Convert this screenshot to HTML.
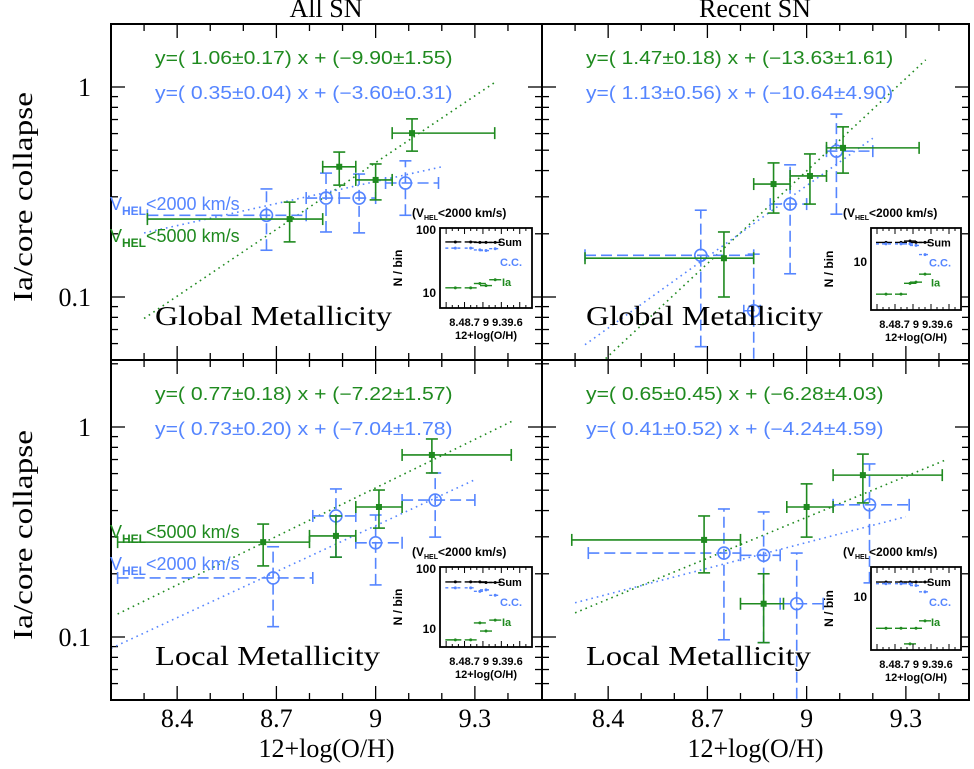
<!DOCTYPE html>
<html><head><meta charset="utf-8"><style>
html,body{margin:0;padding:0;background:#fff;}
svg{display:block;}
text{font-family:"Liberation Serif",serif;}
.eq{font-family:"Liberation Sans",sans-serif;font-size:18px;}
.ins{font-family:"Liberation Sans",sans-serif;font-weight:bold;}
</style></head><body>
<svg id="fig" width="974" height="769" viewBox="0 0 974 769" xmlns="http://www.w3.org/2000/svg"></svg>
<script>
const panelNames = ['all-global','recent-global','all-local','recent-local'];
const greenX   = [[8.74,8.89,9.00,9.11],[8.75,8.90,9.01,9.11],[8.66,8.88,9.01,9.17],[8.69,8.87,9.00,9.17]];
const greenXlo = [[8.31,8.84,8.94,9.05],[8.33,8.84,8.95,9.06],[8.22,8.80,8.94,9.08],[8.29,8.80,8.94,9.08]];
const greenXhi = [[8.84,8.94,9.05,9.36],[8.84,8.95,9.06,9.34],[8.80,8.94,9.08,9.41],[8.80,8.93,9.08,9.41]];
const greenY   = [[0.235,0.417,0.361,0.603],[0.153,0.345,0.377,0.513],[0.283,0.303,0.416,0.736],[0.290,0.144,0.416,0.590]];
const greenYlo = [[0.183,0.341,0.290,0.495],[0.100,0.251,0.277,0.389],[0.218,0.240,0.330,0.604],[0.202,0.094,0.299,0.435]];
const greenYhi = [[0.283,0.490,0.430,0.705],[0.204,0.435,0.480,0.646],[0.345,0.377,0.501,0.877],[0.377,0.200,0.536,0.743]];
const blueX   = [[8.67,8.85,8.95,9.09],[8.68,8.84,8.95,9.09],[8.69,8.88,9.00,9.18],[8.75,8.87,8.97,9.19]];
const blueXlo = [[8.31,8.79,8.89,9.03],[8.33,8.81,8.89,9.06],[8.22,8.81,8.94,9.08],[8.34,8.80,8.92,9.08]];
const blueXhi = [[8.79,8.89,9.00,9.19],[8.84,8.86,9.00,9.20],[8.81,8.94,9.08,9.30],[8.80,8.92,9.05,9.31]];
const blueY   = [[0.245,0.296,0.296,0.349],[0.158,0.086,0.277,0.495],[0.191,0.377,0.281,0.449],[0.251,0.245,0.144,0.426]];
const blueYlo = [[0.167,0.204,0.202,0.245],[0.058,0.030,0.129,0.248],[0.112,0.240,0.177,0.299],[0.097,0.094,0.030,0.181]];
const blueYhi = [[0.327,0.389,0.385,0.445],[0.259,0.160,0.426,0.743],[0.269,0.507,0.381,0.604],[0.407,0.394,0.251,0.667]];
const greenFitA = [1.06,1.47,0.77,0.65], greenFitB = [-9.90,-13.63,-7.22,-6.28];
const blueFitA  = [0.35,1.13,0.73,0.41], blueFitB  = [-3.60,-10.64,-7.04,-4.24];
const greenFitRange = [[8.30,9.36],[8.38,9.36],[8.22,9.42],[8.30,9.42]];
const blueFitRange  = [[8.30,9.20],[8.33,9.20],[8.20,9.30],[8.30,9.30]];
const greenEq = ['y=( 1.06±0.17) x + (−9.90±1.55)','y=( 1.47±0.18) x + (−13.63±1.61)','y=( 0.77±0.18) x + (−7.22±1.57)','y=( 0.65±0.45) x + (−6.28±4.03)'];
const blueEq  = ['y=( 0.35±0.04) x + (−3.60±0.31)','y=( 1.13±0.56) x + (−10.64±4.90)','y=( 0.73±0.20) x + (−7.04±1.78)','y=( 0.41±0.52) x + (−4.24±4.59)'];
const xTicks = [8.4,8.7,9.0,9.3];
const xTickLabels = ['8.4','8.7','9','9.3'];
const yTicks = [0.1,1];
const yTickLabels = ['0.1','1'];
const insetX    = [8.45,8.70,8.85,8.95,9.10];
const insetSum  = [[61,61,60,60,60],[20,20,21,20,20],[53,53,53,52,52],[17,17,17,17,17]];
const insetCC   = [[49,49,46,45,48],[19,19,19,18,13],[43,43,38,40,33],[16,16,16,15,12]];
const insetIa   = [[12,12,14,13,16],[3.2,3.2,4.7,4.9,6.5],[6.8,6.8,12.4,9.3,13.7],[3.3,3.3,1.9,3.3,4.3]];
const insetY10  = [293,262,629,597];

const G='#1f8a1f', B='#5585ff';
const svg=document.getElementById('fig');
const NS='http://www.w3.org/2000/svg';
function el(tag,attrs,parent){const e=document.createElementNS(NS,tag);for(const k in attrs)e.setAttribute(k,attrs[k]);(parent||svg).appendChild(e);return e;}

const panels=[{x0:111,x1:542,y0:24,y1:360,one:87},{x0:542,x1:969,y0:24,y1:360,one:87},
              {x0:111,x1:542,y0:360,y1:700,one:427},{x0:542,x1:969,y0:360,y1:700,one:427}];
const PXU=330.8, DEC=210;
const insetBox=[{x:440,y:228,w:92,h:80},{x:871,y:228,w:90,h:82},{x:440,y:567,w:92,h:80},{x:871,y:567,w:90,h:83}];

panels.forEach((p,i)=>{
  const g=el('g',{});
  
  
  const sx=v=>p.x0+(v-8.2)*PXU;
  const sy=v=>p.one-Math.log10(v)*DEC;
  const clip=el('clipPath',{id:'c'+i},g);
  el('rect',{x:p.x0,y:p.y0,width:p.x1-p.x0,height:p.y1-p.y0},clip);
  for(let k=0;k<=13;k++){const v=8.2+k*0.1;const x=sx(v);if(x>p.x1-1)break;
    const maj=xTicks.some(t=>Math.abs(t-v)<1e-6);const L=maj?14:7;
    el('line',{x1:x,y1:p.y0,x2:x,y2:p.y0+L,stroke:'#000','stroke-width':1.3},g);
    el('line',{x1:x,y1:p.y1,x2:x,y2:p.y1-L,stroke:'#000','stroke-width':1.3},g);}
  for(let d=-2;d<=0;d++)for(let m=1;m<=9;m++){const v=m*Math.pow(10,d);const y=sy(v);if(y<p.y0||y>p.y1)continue;
    const L=m==1?14:7;
    el('line',{x1:p.x0,y1:y,x2:p.x0+L,y2:y,stroke:'#000','stroke-width':1.3},g);
    el('line',{x1:p.x1,y1:y,x2:p.x1-L,y2:y,stroke:'#000','stroke-width':1.3},g);}
  const cg=el('g',{'clip-path':'url(#c'+i+')'},g);
  [[greenFitA,greenFitB,greenFitRange,G],[blueFitA,blueFitB,blueFitRange,B]].forEach(([A,Bv,R,c],j)=>{
    const l=el('line',{x1:sx(R[i][0]),y1:p.one-(A[i]*R[i][0]+Bv[i])*DEC,x2:sx(R[i][1]),y2:p.one-(A[i]*R[i][1]+Bv[i])*DEC,stroke:c,'stroke-width':1.6,'stroke-dasharray':'1.6,4'},cg);
    
    
  });
  function pts(X,XL,XH,Y,YL,YH,c,dash,open,nm){
    for(let k=0;k<X[i].length;k++){
      const pg=el('g',{stroke:c,'stroke-width':1.6,fill:'none'},cg);
      
      
      const da=dash?{'stroke-dasharray':'11,5'}:{};
      const x=sx(X[i][k]),y=sy(Y[i][k]);
      el('line',Object.assign({x1:sx(XL[i][k]),y1:y,x2:sx(XH[i][k]),y2:y},da),pg);
      el('line',Object.assign({x1:x,y1:sy(YL[i][k]),x2:x,y2:sy(YH[i][k])},da),pg);
      [XL,XH].forEach(A=>el('line',{x1:sx(A[i][k]),y1:y-6,x2:sx(A[i][k]),y2:y+6},pg));
      [YL,YH].forEach(A=>el('line',{x1:x-6,y1:sy(A[i][k]),x2:x+6,y2:sy(A[i][k])},pg));
      if(open)el('circle',{cx:x,cy:y,r:6},pg);else el('rect',{x:x-3,y:y-3,width:6,height:6,fill:c,stroke:'none'},pg);
    }}
  pts(blueX,blueXlo,blueXhi,blueY,blueYlo,blueYhi,B,true,true,'blue');
  pts(greenX,greenXlo,greenXhi,greenY,greenYlo,greenYhi,G,false,false,'green');
  el('rect',{x:p.x0,y:p.y0,width:p.x1-p.x0,height:p.y1-p.y0,fill:'none',stroke:'#000','stroke-width':2},g);
  const ex=p.x0+44, ey=p.y0+40;
  const t1=el('text',{x:ex,y:ey,fill:G,class:'eq',textLength:greenEq[i].length*9.6,lengthAdjust:'spacingAndGlyphs'},g);t1.textContent=greenEq[i];
  
  const t2=el('text',{x:ex,y:ey+35,fill:B,class:'eq',textLength:blueEq[i].length*9.6,lengthAdjust:'spacingAndGlyphs'},g);t2.textContent=blueEq[i];
  
  const mt=el('text',{x:p.x0+44,y:p.y1-35,'font-size':27,textLength:(i<2?237:225),lengthAdjust:'spacingAndGlyphs'},g);
  mt.textContent=i<2?'Global Metallicity':'Local Metallicity';
  
  const b=insetBox[i];
  const ig=el('g',{},g);
  
  el('rect',{x:b.x,y:b.y,width:b.w,height:b.h,fill:'#fff',stroke:'none'},ig);
  const ix=v=>b.x+(v-8.2)/1.5*b.w;
  const iy=v=>insetY10[i]-(Math.log10(v)-1)*65;
  const ic=el('clipPath',{id:'ic'+i},ig);el('rect',{x:b.x,y:b.y,width:b.w,height:b.h},ic);
  const icg=el('g',{'clip-path':'url(#ic'+i+')'},ig);
  [[insetSum,'#000',''],[insetCC,B,'3,3'],[insetIa,G,'']].forEach(([A,c,da])=>{
    for(let k=0;k<insetX.length;k++){const x=ix(insetX[k]),y=iy(A[i][k]);
      el('line',{x1:x-(k==0?10:6),y1:y,x2:x+6,y2:y,stroke:c,'stroke-width':1.4,'stroke-dasharray':da},icg);
      el('circle',{cx:x,cy:y,r:1.5,fill:c},icg);}
  });
  for(let k=0;k<=15;k++){const x=b.x+k*b.w/15;el('line',{x1:x,y1:b.y+b.h,x2:x,y2:b.y+b.h-(k%3==1?6:3),stroke:'#000'},ig);el('line',{x1:x,y1:b.y,x2:x,y2:b.y+(k%3==1?6:3),stroke:'#000'},ig);}
  el('rect',{x:b.x,y:b.y,width:b.w,height:b.h,fill:'none',stroke:'#000','stroke-width':1.8},ig);
  const lab=(t,x,y,fs,c,anchor,extra)=>{const e=el('text',Object.assign({x:x,y:y,'font-size':fs,fill:c||'#000','text-anchor':anchor||'start',class:'ins'},extra||{}),ig);e.textContent=t;return e;};
  const hdr=el('text',{x:b.x-28,y:b.y-11,'font-size':12,class:'ins'},ig);
  hdr.innerHTML='(V<tspan font-size="7" dy="3">HEL</tspan><tspan dy="-3">&lt;2000 km/s)</tspan>';
  if(i!=1&&i!=3)lab('100',b.x-4,b.y+6,12,'#000','end');
  lab('10',b.x-4,insetY10[i]+4,12,'#000','end');
  lab('Sum',b.x+b.w-34,iy(insetSum[i][0])+4,11);
  lab('C.C.',b.x+b.w-32,iy(insetSum[i][0])+24,11,B);
  lab('Ia',b.x+b.w-30,iy(insetSum[i][0])+44,11,G);
  lab('8.48.7 9 9.39.6',b.x+b.w/2,b.y+b.h+18,11,'#000','middle');
  lab('12+log(O/H)',b.x+b.w/2,b.y+b.h+31,11,'#000','middle');
  lab('N / bin',0,0,12,'#000','middle',{transform:'translate('+(b.x-38)+','+(b.y+b.h/2)+') rotate(-90)'});
  if(i%2==0){yTicks.forEach((v,k)=>{const t=el('text',{x:p.x0-20,y:sy(v)+9,'font-size':26,'text-anchor':'end'},g);t.textContent=yTickLabels[k];
    });}
  if(i>=2){xTicks.forEach((v,k)=>{const t=el('text',{x:sx(v),y:727,'font-size':26,'text-anchor':'middle'},g);t.textContent=xTickLabels[k];
    });
    const xt=el('text',{x:(p.x0+p.x1)/2,y:757,'font-size':26,'text-anchor':'middle'},g);xt.textContent='12+log(O/H)';
    }
  if(i%2==0){const yt=el('text',{x:0,y:0,'font-size':27,'text-anchor':'middle',textLength:210,lengthAdjust:'spacingAndGlyphs',transform:'translate(32,'+((p.y0+p.y1)/2+5)+') rotate(-90)'},g);yt.textContent='Ia/core collapse';
    }
});
[['All SN',326],['Recent SN',755]].forEach(([t,x])=>{const e=el('text',{x:x,y:17,'font-size':26,'text-anchor':'middle'});e.textContent=t;
  });
function vlab(x,y,c,txt){const e=el('text',{x:x,y:y,'font-size':22,fill:c,class:'eq'});
  e.innerHTML='V<tspan font-size="12" font-weight="bold" dy="5">HEL</tspan><tspan dy="-5">'+txt+'</tspan>';
  }
vlab(110,210,B,'&lt;2000 km/s');vlab(110,242,G,'&lt;5000 km/s');
vlab(110,538,G,'&lt;5000 km/s');vlab(110,570,B,'&lt;2000 km/s');
</script>
</body></html>
